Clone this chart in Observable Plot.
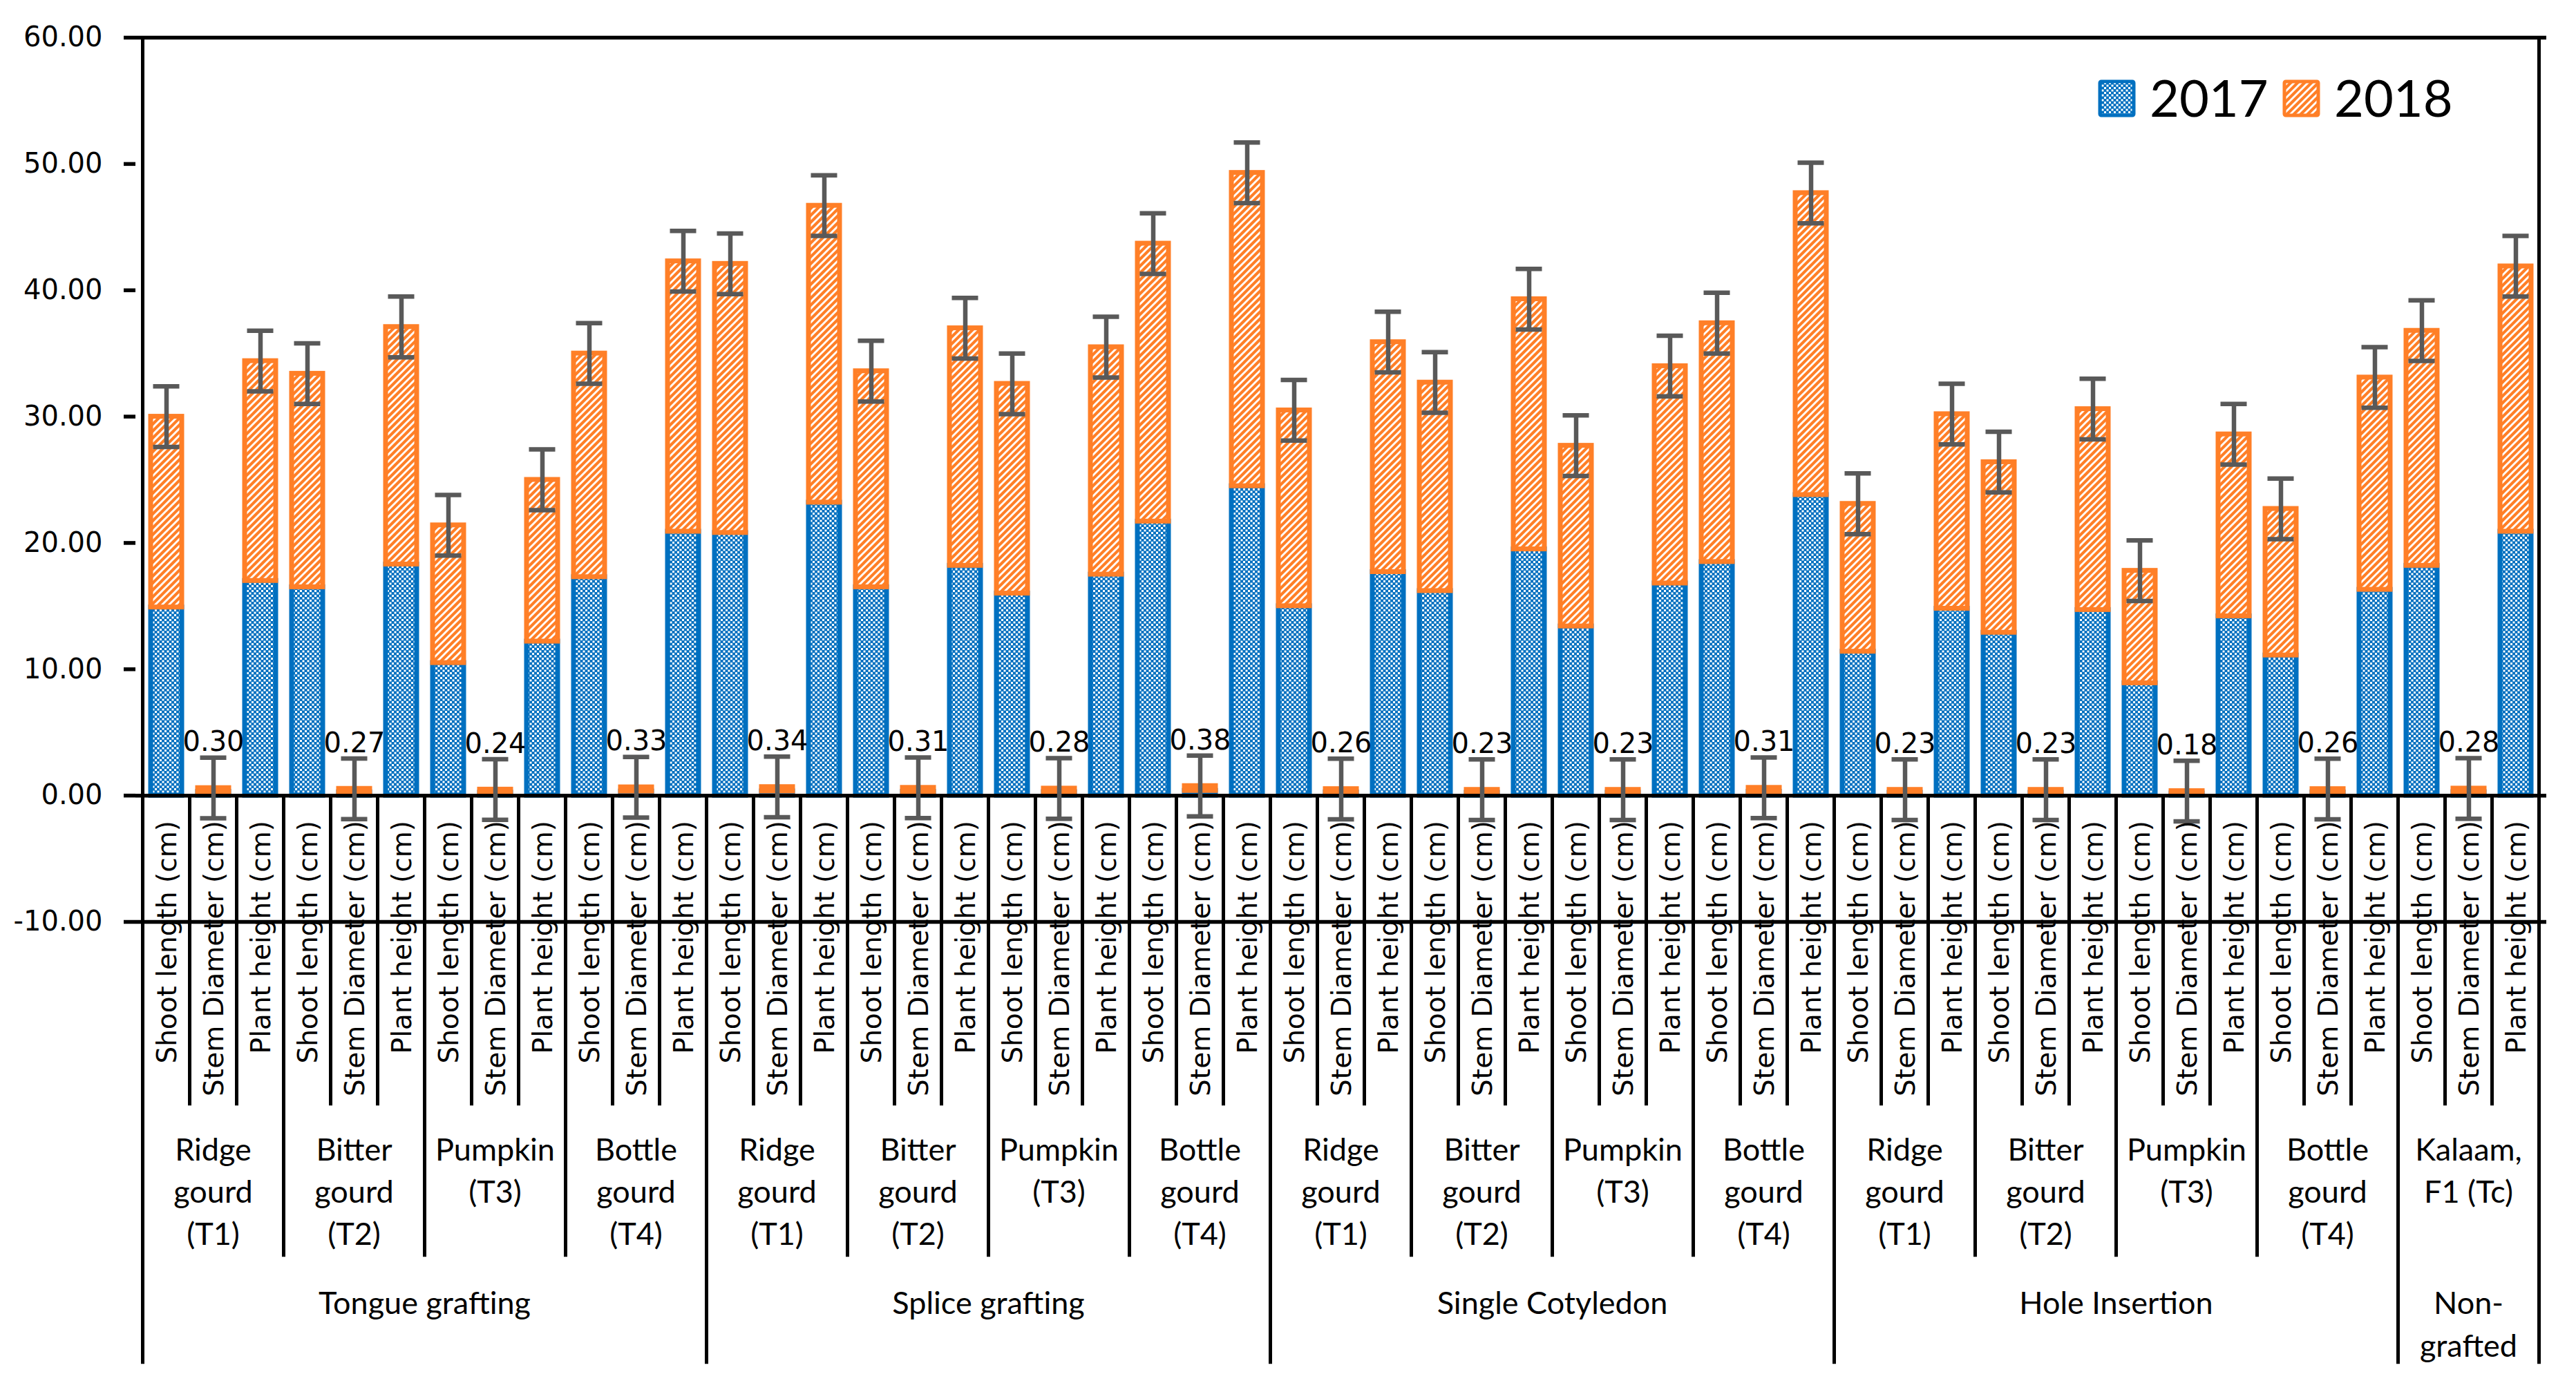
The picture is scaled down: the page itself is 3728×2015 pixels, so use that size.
<!DOCTYPE html>
<html>
<head>
<meta charset="utf-8">
<script src="https://cdn.jsdelivr.net/npm/d3@7"></script>
<script src="https://cdn.jsdelivr.net/npm/@observablehq/plot@0.6"></script>
<style>
  html, body { margin: 0; padding: 0; background: white; overflow: hidden; }
</style>
</head>
<body>
<div id="chart"></div>
<script>
// Grafting methods x rootstocks x measures, stacked 2017 + 2018 with error bars.
const methods = ["Tongue grafting", "Splice grafting", "Single Cotyledon", "Hole Insertion", "Non-grafted"];
const methodLines = [["Tongue grafting"], ["Splice grafting"], ["Single Cotyledon"], ["Hole Insertion"], ["Non-", "grafted"]];
const rootstocks = ["Ridge gourd (T1)", "Bitter gourd (T2)", "Pumpkin (T3)", "Bottle gourd (T4)"];
const rootstockLines = [["Ridge", "gourd", "(T1)"], ["Bitter", "gourd", "(T2)"], ["Pumpkin", "(T3)"], ["Bottle", "gourd", "(T4)"]];
const controlLines = ["Kalaam,", "F1 (Tc)"];
const measures = ["Shoot length (cm)", "Stem Diameter (cm)", "Plant height (cm)"];

// one value per bar, in drawing order (method > rootstock > measure)
const values2017 = [
  14.9, 0.30, 17.0,  16.5, 0.27, 18.3,  10.5, 0.24, 12.2,  17.3, 0.33, 20.9,
  20.8, 0.34, 23.2,  16.5, 0.31, 18.2,  16.0, 0.28, 17.5,  21.7, 0.38, 24.5,
  15.0, 0.26, 17.7,  16.2, 0.23, 19.5,  13.4, 0.23, 16.8,  18.5, 0.31, 23.8,
  11.4, 0.23, 14.8,  12.9, 0.23, 14.7,   8.9, 0.18, 14.2,  11.1, 0.26, 16.3,
  18.2, 0.28, 20.9
];
const values2018 = [
  15.1, 0.30, 17.4,  16.9, 0.27, 18.8,  10.9, 0.24, 12.8,  17.7, 0.33, 21.4,
  21.3, 0.34, 23.5,  17.1, 0.31, 18.8,  16.6, 0.28, 18.0,  22.0, 0.38, 24.8,
  15.5, 0.26, 18.2,  16.5, 0.23, 19.8,  14.3, 0.23, 17.2,  18.9, 0.31, 23.9,
  11.7, 0.23, 15.4,  13.5, 0.23, 15.9,   8.9, 0.18, 14.4,  11.6, 0.26, 16.8,
  18.6, 0.28, 21.0
];
const errorBar = 2.4;
const yTicks = [-10, 0, 10, 20, 30, 40, 50, 60];
const years = ["2017", "2018"];

const BLUE = "#0070C0";
const ORANGE = "#FF7F27";
const GREY = "#595959";

// build rows
const rows = [];
const groups = []; // rootstock groups: {lines, method, first}
let idx = 0;
methods.forEach(function (method, mi) {
  const roots = mi < 4 ? rootstockLines : [controlLines];
  roots.forEach(function (lines) {
    groups.push({ lines: lines, method: mi, first: idx });
    measures.forEach(function (measure) {
      const a = values2017[idx], b = values2018[idx];
      rows.push({
        key: String(idx), method: method, measure: measure,
        v17: a, v18: b, total: a + b,
        label: measure.startsWith("Stem") ? b.toFixed(2) : null
      });
      idx++;
    });
  });
});
const stemRows = rows.filter(function (r) { return r.label; });

const W = 3728, H = 2015;

const plot = Plot.plot({
  width: W,
  height: H,
  marginLeft: 196,
  marginRight: 43,
  marginTop: 54,
  marginBottom: 681,
  style: { background: "white", color: "black", fontFamily: "DejaVu Sans", fontSize: "40px" },
  x: { type: "band", domain: rows.map(function (r) { return r.key; }), paddingInner: 0.342, paddingOuter: 0.171, axis: null },
  y: { domain: [-10, 60], ticks: yTicks, tickFormat: function (d) { return d.toFixed(2); }, tickSize: 17, tickPadding: 31, label: null },
  marks: [
    Plot.barY(rows, {
      x: "key", y1: function () { return 0; }, y2: "v17",
      fill: "url(#pat2017)", stroke: BLUE, strokeWidth: 7, strokeLinejoin: "miter"
    }),
    Plot.barY(rows, {
      x: "key", y1: "v17", y2: "total",
      fill: "url(#pat2018)", stroke: ORANGE, strokeWidth: 7, strokeLinejoin: "miter"
    }),
    Plot.ruleY([-10, 0, 60], { stroke: "black", strokeWidth: 5.5 }),
    Plot.ruleX(rows, {
      x: "key",
      y1: function (d) { return d.total - errorBar; },
      y2: function (d) { return d.total + errorBar; },
      stroke: GREY, strokeWidth: 6.5
    }),
    Plot.tickY(rows, { x: "key", y: function (d) { return d.total + errorBar; }, stroke: GREY, strokeWidth: 6.5, insetLeft: 3.5, insetRight: 3.5 }),
    Plot.tickY(rows, { x: "key", y: function (d) { return d.total - errorBar; }, stroke: GREY, strokeWidth: 6.5, insetLeft: 3.5, insetRight: 3.5 }),
    Plot.text(stemRows, { x: "key", y: "total", text: "label", dy: -66, fontSize: 40, fill: "black" })
  ]
});

document.getElementById("chart").appendChild(plot);

// axis tick weight
plot.querySelectorAll('[aria-label^="y-axis"] line, [aria-label^="y-axis"] path').forEach(function (el) {
  el.setAttribute("stroke-width", 5.5);
});

const svg = d3.select(plot);

// fill patterns
const defs = svg.insert("defs", ":first-child");
const p17 = defs.append("pattern").attr("id", "pat2017").attr("patternUnits", "userSpaceOnUse")
  .attr("width", 7).attr("height", 7);
p17.append("rect").attr("width", 7).attr("height", 7).attr("fill", BLUE);
p17.append("rect").attr("width", 3).attr("height", 3).attr("fill", "white");
p17.append("rect").attr("x", 3.5).attr("y", 3.5).attr("width", 3).attr("height", 3).attr("fill", "white");
const p18 = defs.append("pattern").attr("id", "pat2018").attr("patternUnits", "userSpaceOnUse")
  .attr("width", 10).attr("height", 10);
p18.append("rect").attr("width", 10).attr("height", 10).attr("fill", ORANGE);
p18.append("path").attr("d", "M-2.5,2.5L2.5,-2.5M0,10L10,0M7.5,12.5L12.5,7.5")
  .attr("stroke", "white").attr("stroke-width", 2.9);

// multi-level category table under the axis
const xs = plot.scale("x"), ys = plot.scale("y");
const bw = xs.bandwidth, step = xs.step;
const center = function (i) { return xs.apply(String(i)) + bw / 2; };
const y0 = ys.apply(0), yTop = ys.apply(60);
const n = rows.length;
const g = svg.append("g").attr("fill", "black");

for (let b = 0; b <= n; b++) {
  const x = b < n ? center(b) - step / 2 : center(n - 1) + step / 2;
  let yEnd, yStart = y0;
  if (b === 0 || b === n) { yStart = yTop; yEnd = y0 + 823; }
  else if (b % 12 === 0) yEnd = y0 + 823;
  else if (b % 3 === 0) yEnd = y0 + 668;
  else yEnd = y0 + 449;
  g.append("line").attr("x1", x).attr("x2", x).attr("y1", yStart).attr("y2", yEnd)
    .attr("stroke", "black").attr("stroke-width", 5);
}

rows.forEach(function (r, i) {
  g.append("text")
    .attr("transform", "translate(" + center(i) + "," + (y0 + 37) + ") rotate(-90)")
    .attr("text-anchor", "end").attr("dy", "0.36em")
    .attr("font-family", "DejaVu Sans").attr("font-size", 39)
    .text(r.measure);
});

groups.forEach(function (gr) {
  const cx = (center(gr.first) + center(gr.first + 2)) / 2;
  gr.lines.forEach(function (line, k) {
    g.append("text").attr("x", cx).attr("y", y0 + 513 + k * 61).attr("dy", "0.36em")
      .attr("text-anchor", "middle").attr("font-family", "Lato").attr("font-size", 45)
      .text(line);
  });
});

methods.forEach(function (m, mi) {
  const first = mi * 12, last = mi < 4 ? first + 11 : n - 1;
  const cx = (center(first) + center(last)) / 2;
  methodLines[mi].forEach(function (line, k) {
    g.append("text").attr("x", cx).attr("y", y0 + 735 + k * 62).attr("dy", "0.36em")
      .attr("text-anchor", "middle").attr("font-family", "Lato").attr("font-size", 45)
      .text(line);
  });
});

// legend, top right inside the frame
const legend = svg.append("g");
[[3037, 3111], [3304, 3378]].forEach(function (pos, i) {
  legend.append("rect").attr("x", pos[0] + 2).attr("y", 118).attr("width", 49).attr("height", 49)
    .attr("rx", 2).attr("fill", i === 0 ? "url(#pat2017)" : "url(#pat2018)")
    .attr("stroke", i === 0 ? BLUE : ORANGE).attr("stroke-width", 5);
  legend.append("text").attr("x", pos[1]).attr("y", 142).attr("dy", "0.36em")
    .attr("text-anchor", "start")
    .attr("font-family", "Lato").attr("font-size", 74).text(years[i]);
});
</script>
</body>
</html>
